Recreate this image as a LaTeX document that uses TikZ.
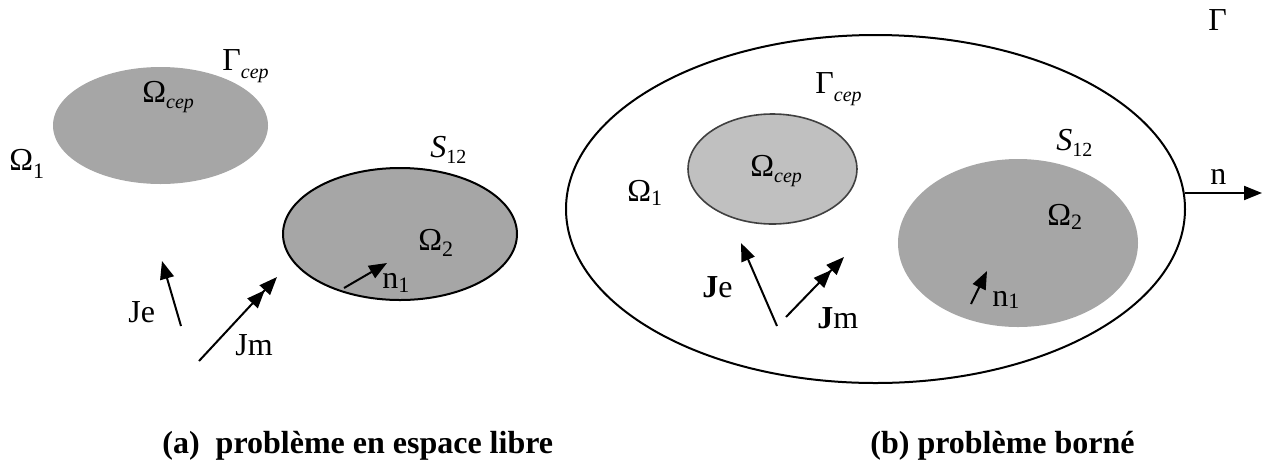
\documentclass[tikz,border=0pt]{standalone}
\usepackage{fontspec}
\setmainfont{Liberation Serif}
\usetikzlibrary{arrows.meta,shapes.geometric}
\newcommand{\lsub}[3]{\raisebox{-#1}{\fontsize{#2}{#2}\selectfont #3}}
\definecolor{gdark}{HTML}{A6A6A6}
\definecolor{glight}{HTML}{C0C0C0}
\definecolor{gline}{HTML}{404040}
\tikzset{
  lbl/.style={font=\fontsize{16}{16}\selectfont, inner sep=0pt, anchor=base west},
  captext/.style={font=\bfseries\fontsize{16}{16}\selectfont, inner sep=0pt, anchor=base west},
  region/.style={ellipse, inner sep=0pt},
  arr/.style={line width=1pt, -{Triangle[length=9pt,width=7pt]}},
  darr/.style={line width=1pt, -{Triangle[length=9pt,width=7pt]Triangle[length=9pt,width=7pt]}}
}
\begin{document}
\begin{tikzpicture}[x=0.5pt,y=-0.5pt]
\useasboundingbox (0,0) rectangle (1270,462);
% ---------- (a) ----------
\node[region, fill=gdark, minimum width=107.5pt, minimum height=58.5pt] (cepA) at (160.5,125.5) {};
\node[region, fill=gdark, draw=black, line width=1pt, minimum width=117pt, minimum height=66pt] (omA) at (400,234) {};
\node[lbl] (gcepA) at (222,70) {Γ\lsub{4pt}{10}{\itshape cep}};
\node[lbl] (ocepA) at (142,102) {Ω\lsub{3pt}{10}{\itshape cep}};
\node[lbl] (o1A) at (9,170) {Ω\lsub{4pt}{11}{1}};
\node[lbl] (sA) at (430,157) {\itshape S\lsub{3pt}{10}{\upshape 12}};
\node[lbl] (o2A) at (418,250) {Ω\lsub{3pt}{11}{2}};
\node[lbl] (n1A) at (382,288) {n\lsub{2pt}{11}{1}};
\node[lbl] (jeA) at (128,322) {Je};
\node[lbl] (jmA) at (235,355) {Jm};
\coordinate (n1As) at (344,288); \coordinate (n1Ae) at (387,263);
\coordinate (jeAs) at (181,326); \coordinate (jeAe) at (162,261);
\coordinate (jmAs) at (199,361); \coordinate (jmAe) at (277,277);
\draw[arr] (n1As) -- (n1Ae);
\draw[arr] (jeAs) -- (jeAe);
\draw[darr] (jmAs) -- (jmAe);
% ---------- (b) ----------
\node[region, draw=black, line width=1pt, minimum width=309.5pt, minimum height=174pt] (gam) at (875.5,209) {};
\node[region, fill=glight, draw=gline, line width=0.8pt, minimum width=84.5pt, minimum height=55pt] (cepB) at (772.5,169) {};
\node[region, fill=gdark, minimum width=120pt, minimum height=84pt] (omB) at (1018,243) {};
\node[lbl] (gamL) at (1208,30) {Γ};
\node[lbl] (gcepB) at (815,93) {Γ\lsub{4pt}{10}{\itshape cep}};
\node[lbl] (ocepB) at (750,176) {Ω\lsub{3pt}{10}{\itshape cep}};
\node[lbl] (o1B) at (627,201) {Ω\lsub{2pt}{11}{1}};
\node[lbl] (sB) at (1056,150) {\itshape S\lsub{3pt}{10}{\upshape 12}};
\node[lbl] (o2B) at (1047,225) {Ω\lsub{2pt}{11}{2}};
\node[lbl] (n1B) at (992,306) {n\lsub{1pt}{11}{1}};
\node[lbl] (nB) at (1210,184) {n};
\node[lbl] (jeB) at (702,297) {\textbf{J}e};
\node[lbl] (jmB) at (817,328) {\textbf{J}m};
\coordinate (nBs) at (1185,193); \coordinate (nBe) at (1262,193);
\coordinate (n1Bs) at (971,304); \coordinate (n1Be) at (987,271);
\coordinate (jeBs) at (777,326); \coordinate (jeBe) at (741,243);
\coordinate (jmBs) at (786,317); \coordinate (jmBe) at (844,257);
\draw[arr] (nBs) -- (nBe);
\draw[arr] (n1Bs) -- (n1Be);
\draw[arr] (jeBs) -- (jeBe);
\draw[darr] (jmBs) -- (jmBe);
% ---------- captions ----------
\node[captext] (capA) at (162,453) {(a)\ \ problème en espace libre};
\node[captext] (capB) at (870,453) {(b) problème borné};
\end{tikzpicture}
\end{document}
